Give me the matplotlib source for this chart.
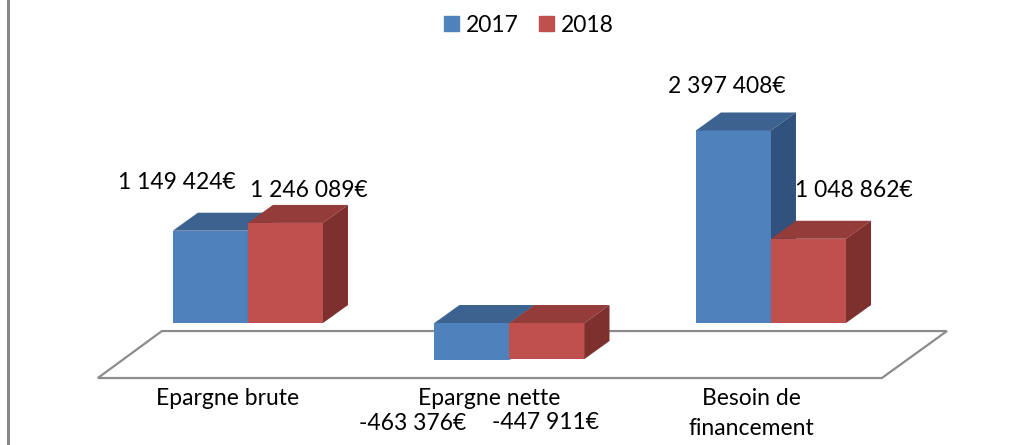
import numpy as np
import matplotlib.pyplot as plt
from matplotlib.patches import Polygon, Patch
from matplotlib.lines import Line2D

plt.rcParams['font.family'] = ['Lato', 'DejaVu Sans']

# data
categories = ['Epargne brute', 'Epargne nette', 'Besoin de\nfinancement']
years = ['2017', '2018']
v2017 = [1149424, -463376, 2397408]
v2018 = [1246089, -447911, 1048862]

# colours: front, top, side
colors = {
    '2017': ('#4F81BD', '#3C6290', '#31527D'),
    '2018': ('#C0504D', '#943C3A', '#7D302E'),
}

def fmt(v):
    s = '{:,}'.format(abs(v)).replace(',', ' ')
    return ('-' if v < 0 else '') + s + '€'

fig = plt.figure(figsize=(10.27, 4.45), dpi=100)
ax = fig.add_axes([0, 0, 1, 1])
ax.set_xlim(-0.948, 2.979)
ax.set_ylim(-1.519e6, 4.022e6)
ax.axis('off')

w = 0.287        # bar width
dx, dy = 0.0956, 0.224e6   # depth of bars

# floor
floor = Polygon([(-0.574, -0.685e6), (2.424, -0.685e6), (2.673, -0.10e6), (-0.329, -0.10e6)],
                closed=True, facecolor='white', edgecolor='#8C8C8C', lw=1.6, zorder=1)
ax.add_patch(floor)

x = np.arange(len(categories))
z = 2
for i, (year, vals) in enumerate(zip(years, [v2017, v2018])):
    front, top, side = colors[year]
    left = x - w + i * w
    bars = ax.bar(left, vals, width=w, align='edge', color=front, zorder=z)
    for b, v in zip(bars, vals):
        x0 = b.get_x()
        x1 = x0 + b.get_width()
        hi = max(v, 0)
        lo = min(v, 0)
        ax.add_patch(Polygon([(x0, hi), (x1, hi), (x1 + dx, hi + dy), (x0 + dx, hi + dy)],
                             facecolor=top, edgecolor='none', zorder=z))
        ax.add_patch(Polygon([(x1, lo), (x1, hi), (x1 + dx, hi + dy), (x1 + dx, lo + dy)],
                             facecolor=side, edgecolor='none', zorder=z))
    z += 1

# value labels (offsets in points from bar centre / end)
label_offsets = {
    '2017': [(-24, 35), (-43, -45.5), (-5, 32)],
    '2018': [(17, 23), (-1, -45.5), (33, 35)],
}
for i, (year, vals) in enumerate(zip(years, [v2017, v2018])):
    for j, v in enumerate(vals):
        cx = x[j] - w / 2 + i * w
        ox, oy = label_offsets[year][j]
        ax.annotate(fmt(v), (cx, v), xytext=(ox, oy), textcoords='offset points',
                    ha='center', va='center', fontsize=16.5, zorder=10)

# category labels
for j, c in enumerate(categories):
    ax.text(x[j] - 0.076, -0.81e6, c, ha='center', va='top', fontsize=16.5,
            linespacing=1.55)

# legend
handles = [Patch(color=colors[y][0]) for y in years]
fig.legend(handles, years, loc='center', bbox_to_anchor=(529 / 1027, 1 - 25 / 445),
           ncol=2, frameon=False, fontsize=16.5, handlelength=0.65, handleheight=0.65,
           handletextpad=0.3, columnspacing=0.9)

# left border
fig.add_artist(Line2D([7.5 / 1027, 7.5 / 1027], [0, 1], color='#878787', lw=2.2,
                      transform=fig.transFigure))

fig.savefig('out.png', dpi=100)
